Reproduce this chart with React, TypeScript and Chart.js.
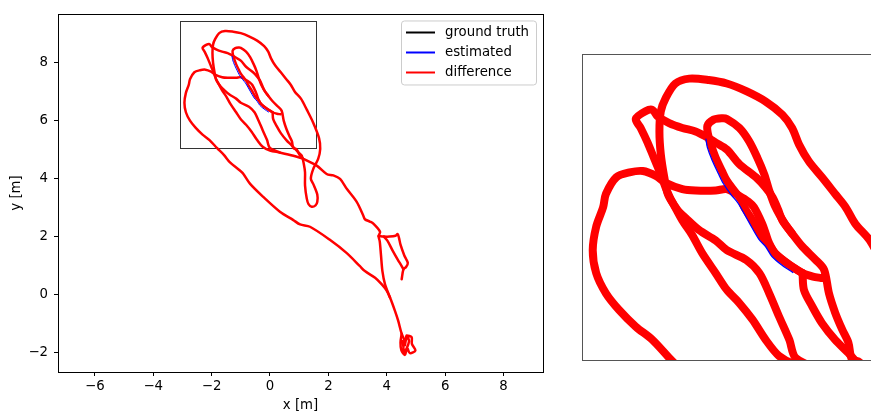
import React, { useEffect, useRef } from 'react';
import { Chart, registerables } from 'chart.js';

Chart.register(...registerables);

// ---------- axis / tick values ----------
const xTickValues = [-6, -4, -2, 0, 2, 4, 6, 8];
const yTickValues = [-2, 0, 2, 4, 6, 8];
const xRange = [-7.26, 9.35];
const yRange = [-2.67, 9.68];
const axisTitles = ['x [m]', 'y [m]'];

// zoom rectangle (data coords) shown in the main axes and used by the inset
const zoomBoxX = [-3.07, 1.58];
const zoomBoxY = [5.04, 9.43];

// legend
const legendLabels = ['ground truth', 'estimated', 'difference'];
const legendColors = ['#000000', '#0000ff', '#ff0000'];

// ---------- trajectory strands (metres) ----------
// long left strand -> left loop -> horizontal -> lens -> junction
const strandAX = [4.62, 4.51, 4.39, 4.28, 4.11, 4.0, 3.83, 3.6, 3.25, 3.08, 2.63, 2.05, 1.37, 1.03, 0.8, 0.34, -0.23, -0.68, -0.91, -1.03, -1.37, -1.58, -1.81, -2.07, -2.31, -2.55, -2.74, -2.88, -2.93, -2.88, -2.78, -2.74, -2.59, -2.4, -2.21, -2.02, -1.88, -1.64, -1.45, -1.16, -1.0, -0.83, -0.69, -0.61, -0.49, -0.44, -0.39, -0.3, -0.1, 0.09, 0.24, 0.36];
const strandAY = [-1.6, -1.35, -0.9, -0.56, -0.1, 0.13, 0.35, 0.58, 0.81, 0.98, 1.43, 1.89, 2.34, 2.42, 2.57, 2.86, 3.37, 3.82, 4.16, 4.28, 4.56, 4.82, 5.05, 5.33, 5.52, 5.76, 6.0, 6.29, 6.62, 6.96, 7.24, 7.43, 7.67, 7.74, 7.76, 7.69, 7.59, 7.5, 7.48, 7.48, 7.5, 7.41, 7.32, 7.24, 7.0, 6.86, 6.72, 6.57, 6.41, 6.29, 6.24, 6.22];

// junction -> small loop -> big arch -> steep left side back down
const strandBX = [0.09, 0.11, 0.23, 0.37, 0.56, 0.75, 0.83, 1.0, 1.09, 1.16, 1.2, 1.2, 1.26, 1.32, 1.43, 1.56, 1.62, 1.62, 1.48, 1.4, 1.48, 1.65, 1.72, 1.68, 1.48, 1.26, 1.06, 0.85, 0.71, 0.56, 0.37, 0.18, 0.04, -0.06, -0.2, -0.44, -0.72, -1.0, -1.26, -1.54, -1.74, -1.88, -1.95, -1.97, -1.95, -1.9, -1.85, -1.75, -1.64, -1.5, -1.35, -1.16, -1.0, -0.82, -0.63, -0.44, -0.25, 0.0, 0.34, 0.8, 1.14];
const strandBY = [6.29, 6.05, 5.81, 5.57, 5.33, 5.14, 5.05, 4.88, 4.79, 4.5, 4.22, 3.77, 3.31, 3.12, 3.03, 3.08, 3.2, 3.45, 3.82, 4.0, 4.33, 4.68, 5.02, 5.4, 5.93, 6.38, 6.76, 7.0, 7.24, 7.43, 7.67, 7.9, 8.14, 8.38, 8.57, 8.76, 8.91, 9.02, 9.07, 9.09, 9.02, 8.81, 8.62, 8.33, 8.0, 7.67, 7.43, 7.25, 7.05, 6.84, 6.57, 6.29, 6.05, 5.86, 5.62, 5.33, 5.1, 4.97, 4.9, 4.79, 4.68];

// bend line -> tip -> hook -> right line -> junction -> back down
const strandCX = [0.34, -0.01, -0.1, -0.25, -0.39, -0.53, -0.72, -1.0, -1.16, -1.4, -1.59, -1.71, -1.81, -1.88, -1.95, -2.05, -2.14, -2.24, -2.31, -2.17, -2.07, -2.0, -1.83, -1.64, -1.45, -1.31, -1.16, -1.0, -0.82, -0.58, -0.44, -0.34, -0.26, -0.2, -0.06, 0.09, 0.28, 0.4, 0.47, 0.56, 0.66, 0.75, 0.8, 0.91, 1.03, 1.14];
const strandCY = [4.9, 5.07, 5.33, 5.67, 6.0, 6.29, 6.48, 6.62, 6.76, 6.91, 7.08, 7.2, 7.36, 7.52, 7.71, 7.95, 8.17, 8.38, 8.51, 8.62, 8.64, 8.55, 8.45, 8.38, 8.33, 8.26, 8.17, 8.07, 7.86, 7.67, 7.52, 7.38, 7.2, 7.05, 6.86, 6.67, 6.48, 6.34, 6.0, 5.72, 5.48, 5.29, 5.05, 5.01, 4.79, 4.68];

// inner narrow loop
const strandDX = [0.09, -0.1, -0.3, -0.39, -0.49, -0.63, -0.75, -0.79, -0.88, -1.0, -1.07, -1.16, -1.23, -1.26, -1.28, -1.19, -1.07, -1.0, -0.82, -0.68, -0.56, -0.46, -0.39, -0.3, -0.17, -0.06];
const strandDY = [6.29, 6.41, 6.57, 6.7, 6.81, 7.05, 7.24, 7.34, 7.46, 7.62, 7.76, 7.95, 8.14, 8.24, 8.41, 8.5, 8.52, 8.51, 8.38, 8.19, 7.95, 7.71, 7.48, 7.24, 7.01, 6.86];

// right strand down to the box, then the vertical
const strandEX = [1.14, 1.6, 1.94, 2.17, 2.4, 2.63, 2.97, 3.19, 3.25, 3.42, 3.54, 3.77, 3.72, 3.76, 3.8, 3.85, 3.94, 4.11];
const strandEY = [4.68, 4.45, 4.16, 4.11, 3.99, 3.65, 3.2, 2.74, 2.6, 2.52, 2.45, 2.17, 2.02, 1.83, 1.38, 0.81, 0.35, -0.1];

// box top edge and right narrow loop
const strandFX = [3.72, 3.9, 4.1, 4.3, 4.37, 4.42, 4.47, 4.6, 4.72, 4.66, 4.57, 4.51];
const strandFY = [2.02, 2.0, 2.0, 2.03, 2.09, 1.95, 1.72, 1.35, 1.09, 0.95, 0.87, 0.53];

// inner box line
const strandGX = [3.9, 4.02, 4.2, 4.38, 4.5, 4.57];
const strandGY = [2.0, 1.86, 1.52, 1.2, 1.0, 0.87];

// bottom cluster
const strandHX = [4.51, 4.47, 4.5, 4.62, 4.7, 4.79, 4.98, 4.86, 4.85, 4.7, 4.62, 4.68, 4.76, 4.6, 4.55];
const strandHY = [-1.35, -1.65, -1.92, -2.08, -1.85, -2.02, -1.93, -1.7, -1.47, -1.43, -1.75, -1.41, -1.62, -1.98, -1.6];

// visible piece of the estimated (blue) trajectory
const estX = [-1.3, -1.28, -1.21, -1.12, -1.05, -0.94, -0.84, -0.68, -0.54, -0.44, -0.35, -0.2, -0.05];
const estY = [8.22, 8.1, 7.91, 7.72, 7.58, 7.42, 7.3, 7.02, 6.78, 6.67, 6.53, 6.4, 6.3];

const redStrands: number[][][] = [
  [strandAX, strandAY],
  [strandBX, strandBY],
  [strandCX, strandCY],
  [strandDX, strandDY],
  [strandEX, strandEY],
  [strandFX, strandFY],
  [strandGX, strandGY],
  [strandHX, strandHY],
];

const FONT_FAMILY = '"DejaVu Sans", "Liberation Sans", sans-serif';
const FONT_SIZE = 13.3;

const zip = (xs: number[], ys: number[]) => xs.map((x, i) => ({ x, y: ys[i] }));
const fmt = (v: number | string) => {
  const n = Number(v);
  return n < 0 ? '\u2212' + Math.abs(n) : String(n);
};

function buildDatasets(redWidth: number, blueWidth: number) {
  const ds: any[] = [
    {
      label: 'estimated',
      data: zip(estX, estY),
      borderColor: '#0000ff',
      borderWidth: blueWidth,
      pointRadius: 0,
      tension: 0.3,
      fill: false,
    },
  ];
  redStrands.forEach(([xs, ys], i) => {
    ds.push({
      label: i === 0 ? 'difference' : 'difference-' + i,
      data: zip(xs, ys),
      borderColor: '#ff0000',
      borderWidth: redWidth,
      pointRadius: 0,
      tension: 0.3,
      fill: false,
    });
  });
  return ds;
}

const framePlugin = {
  id: 'mplFrame',
  beforeDatasetsDraw(chart: any) {
    const { ctx, scales } = chart;
    const x0 = Math.round(scales.x.getPixelForValue(zoomBoxX[0])) + 0.5;
    const x1 = Math.round(scales.x.getPixelForValue(zoomBoxX[1])) + 0.5;
    const y0 = Math.round(scales.y.getPixelForValue(zoomBoxY[1])) + 0.5;
    const y1 = Math.round(scales.y.getPixelForValue(zoomBoxY[0])) + 0.5;
    ctx.save();
    ctx.strokeStyle = '#333333';
    ctx.lineWidth = 1;
    ctx.strokeRect(x0, y0, x1 - x0, y1 - y0);
    ctx.restore();
  },
  afterDatasetsDraw(chart: any) {
    const { ctx, chartArea: a } = chart;
    ctx.save();
    ctx.strokeStyle = '#000';
    ctx.lineWidth = 1;
    ctx.strokeRect(Math.round(a.left) + 0.5, Math.round(a.top) + 0.5, Math.round(a.right - a.left), Math.round(a.bottom - a.top));
    ctx.restore();
  },
};

const legendPlugin = {
  id: 'mplLegend',
  afterDraw(chart: any) {
    const { ctx, chartArea: a } = chart;
    const w = 135;
    const h = 64;
    const x0 = a.right - 6.5 - w;
    const y0 = a.top + 7;
    const r = 3;
    ctx.save();
    ctx.beginPath();
    ctx.moveTo(x0 + r, y0);
    ctx.lineTo(x0 + w - r, y0);
    ctx.arcTo(x0 + w, y0, x0 + w, y0 + r, r);
    ctx.lineTo(x0 + w, y0 + h - r);
    ctx.arcTo(x0 + w, y0 + h, x0 + w - r, y0 + h, r);
    ctx.lineTo(x0 + r, y0 + h);
    ctx.arcTo(x0, y0 + h, x0, y0 + h - r, r);
    ctx.lineTo(x0, y0 + r);
    ctx.arcTo(x0, y0, x0 + r, y0, r);
    ctx.closePath();
    ctx.fillStyle = 'rgba(255,255,255,0.8)';
    ctx.fill();
    ctx.strokeStyle = '#cccccc';
    ctx.lineWidth = 1;
    ctx.stroke();
    legendLabels.forEach((label, i) => {
      const yy = Math.round(y0 + 11 + i * 20) + 0.5;
      ctx.beginPath();
      ctx.strokeStyle = legendColors[i];
      ctx.lineWidth = 2;
      ctx.moveTo(x0 + 4.5, yy);
      ctx.lineTo(x0 + 33.5, yy);
      ctx.stroke();
      ctx.fillStyle = '#000';
      ctx.font = `${FONT_SIZE}px ${FONT_FAMILY}`;
      ctx.textBaseline = 'middle';
      ctx.textAlign = 'left';
      ctx.fillText(label, x0 + 43.5, yy);
    });
    ctx.restore();
  },
};

const MAIN_W = 560;
const H = 414;
const INSET_LEFT = 582;
const INSET_TOP = 54;
const INSET_W = 288;
const INSET_H = 305;

export default function App() {
  const mainRef = useRef<HTMLCanvasElement>(null);
  const insetRef = useRef<HTMLCanvasElement>(null);

  useEffect(() => {
    const font = { family: FONT_FAMILY, size: FONT_SIZE };
    const gridOpts = {
      display: true,
      drawOnChartArea: false,
      drawTicks: true,
      tickLength: 4,
      color: '#000',
      tickColor: '#000',
      lineWidth: 1,
    };
    const main = new Chart(mainRef.current as HTMLCanvasElement, {
      type: 'line',
      data: { datasets: buildDatasets(2.5, 1) },
      options: {
        animation: false,
        responsive: false,
        devicePixelRatio: 1,
        parsing: false as any,
        layout: { padding: { left: 0, right: MAIN_W - 543, top: 10, bottom: 0 } },
        plugins: { legend: { display: false }, tooltip: { enabled: false } },
        elements: {
          point: { radius: 0 },
          line: { borderJoinStyle: 'round', borderCapStyle: 'round', capBezierPoints: false } as any,
        },
        scales: {
          x: {
            type: 'linear',
            min: xRange[0],
            max: xRange[1],
            afterFit: (s: any) => {
              s.height = 42;
            },
            afterBuildTicks: (s: any) => {
              s.ticks = xTickValues.map((v) => ({ value: v }));
            },
            ticks: { font, color: '#000', padding: 3, autoSkip: false, maxRotation: 0, includeBounds: false, callback: fmt },
            grid: gridOpts,
            border: { display: false },
            title: { display: true, text: axisTitles[0], font, color: '#000', padding: { top: 0, bottom: 0 } },
          },
          y: {
            type: 'linear',
            min: yRange[0],
            max: yRange[1],
            afterFit: (s: any) => {
              s.width = 58;
            },
            afterBuildTicks: (s: any) => {
              s.ticks = yTickValues.map((v) => ({ value: v }));
            },
            ticks: { font, color: '#000', padding: 6, autoSkip: false, includeBounds: false, callback: fmt },
            grid: gridOpts,
            border: { display: false },
            title: { display: true, text: axisTitles[1], font, color: '#000', padding: { top: 9, bottom: 0 } },
          },
        },
      } as any,
      plugins: [framePlugin, legendPlugin],
    });

    const insetXMax = zoomBoxX[0] + (INSET_W * (zoomBoxY[1] - zoomBoxY[0])) / INSET_H;
    const inset = new Chart(insetRef.current as HTMLCanvasElement, {
      type: 'line',
      data: { datasets: buildDatasets(8, 1.3) },
      options: {
        animation: false,
        responsive: false,
        devicePixelRatio: 1,
        parsing: false as any,
        layout: { padding: 0 },
        plugins: { legend: { display: false }, tooltip: { enabled: false } },
        elements: {
          point: { radius: 0 },
          line: { borderJoinStyle: 'round', borderCapStyle: 'round', capBezierPoints: false } as any,
        },
        scales: {
          x: { type: 'linear', display: false, min: zoomBoxX[0], max: insetXMax },
          y: { type: 'linear', display: false, min: zoomBoxY[0], max: zoomBoxY[1] },
        },
      } as any,
    });

    return () => {
      main.destroy();
      inset.destroy();
    };
  }, []);

  return (
    <div
      style={{
        position: 'absolute',
        left: 0,
        top: 0,
        width: 871,
        height: H,
        overflow: 'hidden',
        background: '#fff',
      }}
    >
      <canvas
        ref={mainRef}
        width={MAIN_W}
        height={H}
        style={{ position: 'absolute', left: 0, top: 0, width: MAIN_W, height: H }}
      />
      <div
        style={{
          position: 'absolute',
          left: INSET_LEFT,
          top: INSET_TOP,
          width: INSET_W + 1,
          height: INSET_H + 2,
          borderLeft: '1px solid #555',
          borderTop: '1px solid #555',
          borderBottom: '1px solid #555',
          boxSizing: 'border-box',
          overflow: 'hidden',
        }}
      >
        <canvas
          ref={insetRef}
          width={INSET_W}
          height={INSET_H}
          style={{ display: 'block', width: INSET_W, height: INSET_H }}
        />
      </div>
    </div>
  );
}
